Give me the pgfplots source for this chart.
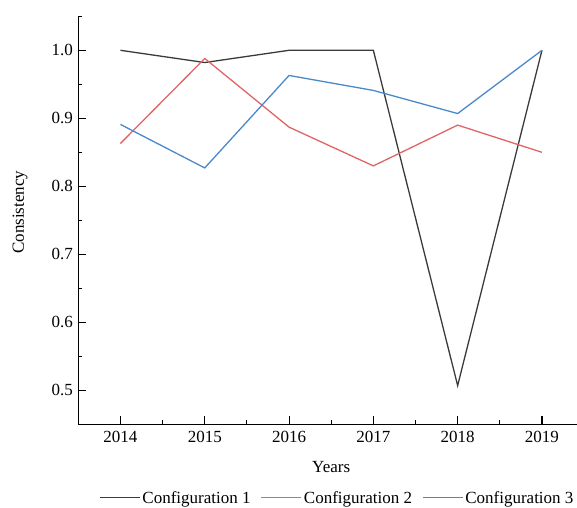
\documentclass[border=0pt]{standalone}
\usepackage{fontspec}
\setmainfont{Liberation Serif}
\usepackage{pgfplots}
\pgfplotsset{compat=1.18}
\definecolor{c1}{HTML}{3A3A3A}
\definecolor{c2}{HTML}{E06464}
\definecolor{c3}{HTML}{4A88CC}
\begin{document}
\begin{tikzpicture}
\begin{axis}[
  at={(0,0)}, anchor=origin,
  scale only axis,
  width=505.8bp, height=408bp,
  xmin=2013.5, xmax=2019.5,
  ymin=0.45, ymax=1.05,
  axis lines*=left,
  axis line style={line width=1.1pt, black},
  xtick={2014,2015,2016,2017,2018,2019},
  minor xtick={2014.5,2015.5,2016.5,2017.5,2018.5},
  ytick={0.5,0.6,0.7,0.8,0.9,1.0},
  minor ytick={0.55,0.65,0.75,0.85,0.95,1.05},
  tick align=inside,
  major tick length=8bp,
  minor tick length=4bp,
  tick style={line width=1.1pt, black},
  xticklabel style={/pgf/number format/1000 sep={}, /pgf/number format/fixed},
  yticklabel style={/pgf/number format/fixed, /pgf/number format/fixed zerofill, /pgf/number format/precision=1},
  /pgf/number format/assume math mode=true,
  tick label style={font=\fontsize{17bp}{20bp}\selectfont},
  label style={font=\fontsize{17bp}{20bp}\selectfont},
  xticklabel shift=3bp,
  yticklabel shift=2bp,
  xlabel={Years},
  ylabel={Consistency},
  xlabel style={at={(axis description cs:0.5,0)}, yshift=-43bp, anchor=center},
  ylabel style={at={(axis description cs:-0.115,0.52)}, anchor=center},
  legend columns=3,
  legend style={draw=none, at={(20.7bp,-73.5bp)}, anchor=west,
    font=\fontsize{17bp}{20bp}\selectfont,
    inner sep=0pt, nodes={inner sep=2bp},
    /tikz/every even column/.append style={column sep=8bp}},
  legend image code/.code={\draw[#1] (0bp,0bp) -- (40bp,0bp);},
  clip=false,
]
\addplot[color=c1, line width=1.3pt] coordinates {(2014,1.0) (2015,0.982) (2016,1.0) (2017,1.0) (2018,0.507) (2019,1.0)};
\addlegendentry{Configuration 1}
\addplot[color=c2, line width=1.3pt] coordinates {(2014,0.863) (2015,0.988) (2016,0.887) (2017,0.830) (2018,0.890) (2019,0.850)};
\addlegendentry{Configuration 2}
\addplot[color=c3, line width=1.3pt] coordinates {(2014,0.891) (2015,0.827) (2016,0.963) (2017,0.941) (2018,0.907) (2019,1.0)};
\addlegendentry{Configuration 3}
\end{axis}
\pgfresetboundingbox
\path[use as bounding box] (-78.3bp,-83.7bp) rectangle (498.7bp,424.3bp);
\end{tikzpicture}
\end{document}
